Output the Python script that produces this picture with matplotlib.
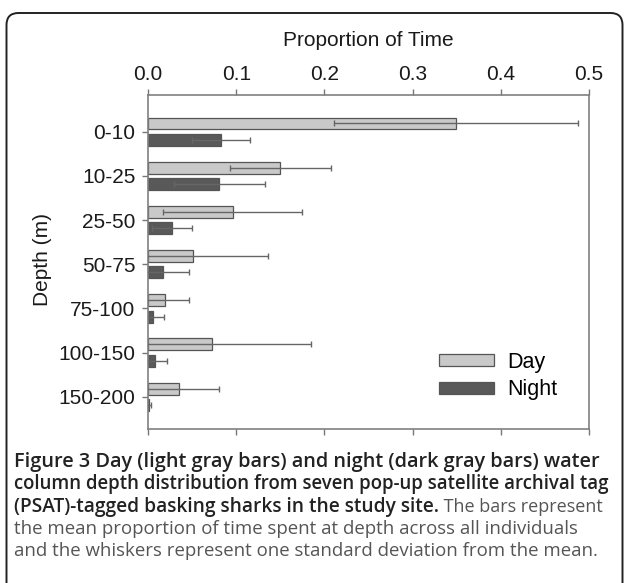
import numpy as np
import matplotlib
matplotlib.use("Agg")
import matplotlib.pyplot as plt
from matplotlib.patches import FancyBboxPatch

depths = ["0-10", "10-25", "25-50", "50-75", "75-100", "100-150", "150-200"]
day_mean = [0.349, 0.150, 0.096, 0.051, 0.019, 0.072, 0.035]
day_sd = [0.138, 0.057, 0.079, 0.085, 0.028, 0.113, 0.045]
night_mean = [0.083, 0.081, 0.027, 0.017, 0.006, 0.008, 0.001]
night_sd = [0.033, 0.052, 0.023, 0.029, 0.012, 0.013, 0.002]
xticks = [0.0, 0.1, 0.2, 0.3, 0.4, 0.5]

caption_bold = ["Figure 3 Day (light gray bars) and night (dark gray bars) water",
                "column depth distribution from seven pop-up satellite archival tag",
                "(PSAT)-tagged basking sharks in the study site."]
caption_rest = [" The bars represent",
                "the mean proportion of time spent at depth across all individuals",
                "and the whiskers represent one standard deviation from the mean."]

W, H = 624, 583
fig = plt.figure(figsize=(W / 100, H / 100), dpi=100)
plt.rcParams['font.family'] = ['Liberation Sans', 'DejaVu Sans']

# rounded frame around figure + caption
frame = FancyBboxPatch((0.065, -0.5), 6.16, 5.70 + 0.5,
                       boxstyle="round,pad=0,rounding_size=0.12",
                       transform=fig.dpi_scale_trans, fill=False,
                       edgecolor="#222222", linewidth=1.4)
fig.patches.append(frame)

ax = fig.add_axes([148 / W, 1 - 429 / H, (589 - 148) / W, (429 - 95) / H])

y = np.arange(len(depths))
h = 0.27
off = 0.185
edge = "#555555"
ecol = "#666666"

ax.barh(y - off, day_mean, height=h, color="#c9c9c9", edgecolor=edge, linewidth=0.9, label="Day")
ax.barh(y + off, night_mean, height=h, color="#595959", edgecolor=edge, linewidth=0.9, label="Night")
ax.errorbar(day_mean, y - off, xerr=day_sd, fmt="none", ecolor=ecol, elinewidth=1.0,
            capsize=2.2, capthick=1.0, zorder=3)
ax.errorbar(night_mean, y + off, xerr=night_sd, fmt="none", ecolor=ecol, elinewidth=1.0,
            capsize=2.2, capthick=1.0, zorder=3)

ax.set_xlim(0, 0.5)
ax.set_ylim(6.73, -0.83)
ax.set_xticks(xticks)
ax.set_xticklabels(["%.1f" % v for v in xticks])
ax.set_yticks(y)
ax.set_yticklabels(depths)

ax.xaxis.set_ticks_position("both")
ax.xaxis.set_label_position("top")
ax.tick_params(axis="x", which="both", labeltop=True, labelbottom=False,
               direction="out", length=4, width=1, color="#777777",
               labelsize=15, pad=4, labelcolor="#1a1a1a")
ax.tick_params(axis="y", direction="out", length=4, width=1, color="#777777",
               labelsize=15, pad=5, labelcolor="#1a1a1a")
for s in ax.spines.values():
    s.set_color("#808080")
    s.set_linewidth(1.2)

fig.text(368.5 / W, 1 - 46 / H, "Proportion of Time", ha="center", va="baseline",
         fontsize=15, color="#1a1a1a")
fig.text(42.5 / W, 1 - 259 / H, "Depth (m)", ha="center", va="center", rotation=90,
         fontsize=15, color="#1a1a1a")

ax.legend(loc="upper left", bbox_to_anchor=(439 / W, 1 - 352 / H),
          bbox_transform=fig.transFigure, frameon=False, fontsize=15.5,
          handlelength=2.55, handleheight=0.47, handletextpad=0.6,
          labelspacing=0.3, borderpad=0, borderaxespad=0)

# caption
cap_font = ['Open Sans', 'DejaVu Sans']
cap_size = 13.4
bold_sizes = [14.3, 13.4, 13.8]
x0 = 14 / W
pitch = 22.3
base0 = 467
renderer = fig.canvas.get_renderer()
for i in range(5):
    yy = 1 - (base0 + i * pitch) / H
    if i < 3:
        t = fig.text(x0, yy, caption_bold[i], fontsize=bold_sizes[i], fontweight=600,
                     family=cap_font, color="#222222", va="baseline")
        if i == 2:
            bb = t.get_window_extent(renderer)
            fig.text(bb.x1 / W, yy, caption_rest[0], fontsize=13.0,
                     family=cap_font, color="#555555", va="baseline")
    else:
        fig.text(x0, yy, caption_rest[i - 2], fontsize=cap_size,
                 family=cap_font, color="#555555", va="baseline")

fig.savefig("out.png", dpi=100)
